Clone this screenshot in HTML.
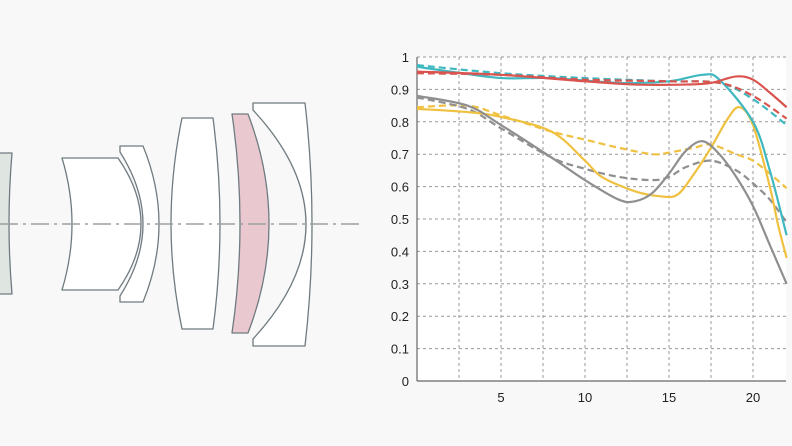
<!DOCTYPE html>
<html><head><meta charset="utf-8"><style>
html,body{margin:0;padding:0;background:#f8f8f8;width:792px;height:446px;overflow:hidden}
svg{display:block}
text{font-family:"Liberation Sans",sans-serif;font-size:13px;fill:#222}
</style></head><body>
<svg id="s" width="792" height="446" viewBox="0 0 792 446" xmlns="http://www.w3.org/2000/svg">
<rect x="417" y="57" width="369" height="324" fill="#fff"/>
<g id="grid" stroke="#999" stroke-width="1" stroke-dasharray="3,3" fill="none"></g>
<line x1="417" y1="57" x2="417" y2="381" stroke="#666" stroke-width="1.2"/>
<line x1="417" y1="381" x2="786" y2="381" stroke="#666" stroke-width="1.2"/>
<g id="lbl"></g>
<g id="curves" fill="none" stroke-width="2.2"></g>
<!-- lens diagram -->
<g stroke="#6f7b80" stroke-width="1.3" stroke-linejoin="round">
<path d="M-2,153 L12,153 Q6,224 12,294 L-2,294 Z" fill="#dfe6e2"/>
<path d="M62,158 L118,158 Q164,224 118,290 L62,290 Q82,224 62,158 Z" fill="#fff"/>
<path d="M120,146 L143,146 Q175,224 143,302 L120,302 L120,296 Q166,224 120,152 Z" fill="#fff"/>
<path d="M182,118 L213,118 Q227,224 213,329 L182,329 Q160,224 182,118 Z" fill="#fff"/>
<path d="M232,114 L248,114 Q290,224 248,333 L232,333 Q248,224 232,114 Z" fill="#e9c8d0"/>
<path d="M253,103 L305,103 Q319,224 305,346 L253,346 L253,339 Q359,224 253,110 Z" fill="#fff"/>
</g>
<line x1="0" y1="224" x2="360" y2="224" stroke="#9aa0a0" stroke-width="1.5" stroke-dasharray="18,5,3,5"/>
</svg>
<script>
var NS="http://www.w3.org/2000/svg",s=document.getElementById('s');
function X(u){return 417+u*16.8}function Y(v){return 381-v*324}
var g=document.getElementById('grid'),l=document.getElementById('lbl');
function el(p,t,a,txt){var e=document.createElementNS(NS,t);for(var k in a)e.setAttribute(k,a[k]);if(txt!=null)e.textContent=txt;p.appendChild(e);return e}
for(var i=1;i<=10;i++){el(g,'line',{x1:417,x2:786,y1:Y(i/10),y2:Y(i/10)});}
for(var i=1;i<=8;i++){el(g,'line',{x1:X(i*2.5),x2:X(i*2.5),y1:57,y2:381});}
for(var i=0;i<=10;i++){el(l,'text',{x:409,y:Y(i/10)+5,'text-anchor':'end'},i==0?'0':i==10?'1':(i/10).toFixed(1));}
[5,10,15,20].forEach(function(v){el(l,'text',{x:X(v),y:402,'text-anchor':'middle'},v)});
function path(pts){var P=pts.map(function(p){return[X(p[0]),Y(p[1])]});var d='M'+P[0][0]+','+P[0][1];
for(var i=0;i<P.length-1;i++){var p0=P[i-1]||P[i],p1=P[i],p2=P[i+1],p3=P[i+2]||P[i+1];
d+=' C'+(p1[0]+(p2[0]-p0[0])/6)+','+(p1[1]+(p2[1]-p0[1])/6)+' '+(p2[0]-(p3[0]-p1[0])/6)+','+(p2[1]-(p3[1]-p1[1])/6)+' '+p2[0]+','+p2[1];}return d}
var c=document.getElementById('curves');
var S=[
['#f0c040',1,[[0,.845],[3,.85],[5,.82],[8,.77],[10,.745],[12,.72],[14,.70],[15,.705],[16.5,.72],[17.5,.73],[19,.70],[20,.68],[21,.64],[22,.595]]],
['#8f8f8f',1,[[0,.875],[3,.84],[5,.78],[8,.69],[10,.655],[12,.63],[14,.62],[15,.63],[16,.66],[17.5,.68],[19,.65],[20,.61],[21,.56],[22,.49]]],
['#f0c040',0,[[0,.84],[3,.83],[5,.815],[8,.77],[10,.68],[11,.63],[13,.585],[14.5,.57],[15.5,.575],[16.5,.64],[17.5,.72],[18.5,.81],[19.2,.845],[20,.79],[21,.6],[21.5,.48],[22,.38]]],
['#8f8f8f',0,[[0,.88],[3,.85],[5,.79],[8,.69],[10,.62],[12,.56],[13,.555],[14,.58],[15,.64],[16,.71],[17,.74],[18,.7],[19,.63],[20,.54],[21,.42],[22,.30]]],
['#3fb8c0',1,[[0,.975],[5,.95],[10,.935],[15,.925],[18,.92],[20,.87],[22,.79]]],
['#3fb8c0',0,[[0,.97],[2,.955],[5,.935],[8,.935],[12,.92],[15,.925],[17,.945],[18,.93],[20,.8],[21,.65],[22,.45]]],
['#d9534f',1,[[0,.95],[5,.945],[10,.93],[15,.925],[18,.92],[20,.88],[22,.81]]],
['#d9534f',0,[[0,.955],[5,.945],[10,.925],[13,.915],[16,.915],[17.5,.92],[19,.94],[20,.93],[21,.89],[22,.845]]]];
S.forEach(function(r){var a={d:path(r[2]),stroke:r[0]};if(r[1])a['stroke-dasharray']='7,4';el(c,'path',a)});
</script>
</body></html>
